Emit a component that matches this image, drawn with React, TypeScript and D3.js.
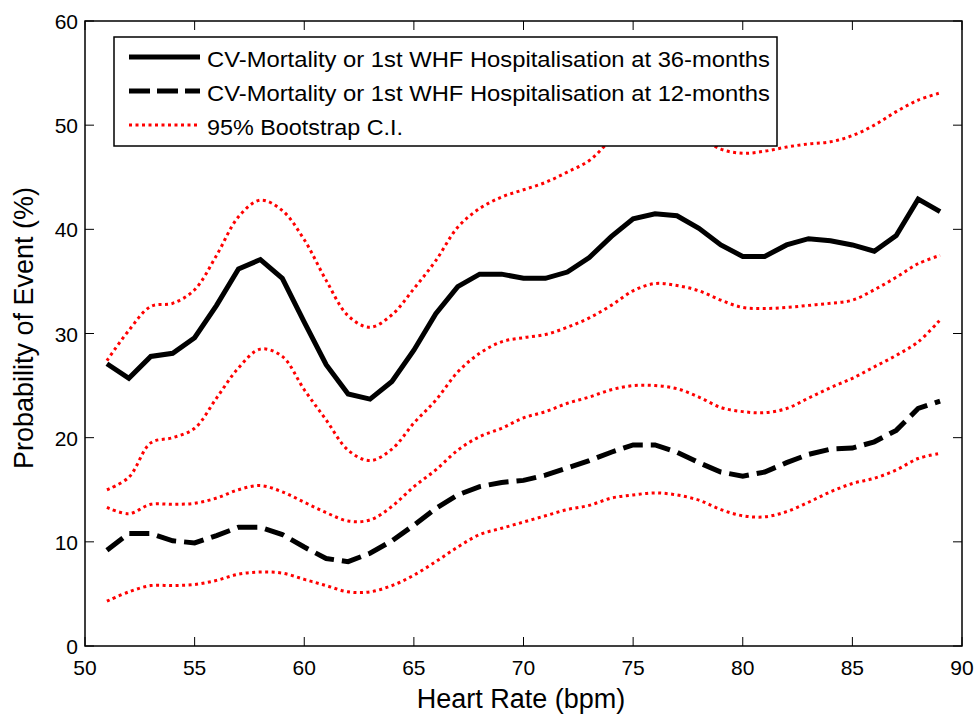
import React from "react";
import * as d3 from "d3";

const heartRate = [51,52,53,54,55,56,57,58,59,60,61,62,63,64,65,66,67,68,69,70,71,72,73,74,75,76,77,78,79,80,81,82,83,84,85,86,87,88,89];

const event36 = [27.1,25.7,27.8,28.1,29.6,32.7,36.2,37.1,35.3,31.1,27.0,24.2,23.7,25.4,28.4,31.9,34.5,35.7,35.7,35.3,35.3,35.9,37.3,39.3,41.0,41.5,41.3,40.1,38.5,37.4,37.4,38.5,39.1,38.9,38.5,37.9,39.4,42.9,41.7];
const event12 = [9.2,10.8,10.8,10.1,9.9,10.6,11.4,11.4,10.7,9.5,8.4,8.1,8.9,10.1,11.6,13.2,14.5,15.3,15.7,15.9,16.4,17.1,17.8,18.6,19.3,19.3,18.6,17.6,16.7,16.3,16.7,17.6,18.4,18.9,19.0,19.6,20.7,22.8,23.5];
const upper36 = [27.4,30.3,32.6,32.9,34.2,37.5,41.2,42.8,41.8,39.0,35.1,31.7,30.6,31.8,34.3,37.0,40.2,42.0,43.1,43.8,44.5,45.5,46.6,48.6,50.2,50.8,50.2,49.0,47.7,47.3,47.5,47.9,48.2,48.4,49.0,50.0,51.3,52.4,53.1];
const lower36 = [15.0,16.2,19.5,20.0,20.9,23.8,26.7,28.5,27.8,24.6,21.7,18.8,17.8,18.9,21.4,23.6,26.3,28.1,29.2,29.6,29.9,30.6,31.5,32.7,34.1,34.8,34.6,34.1,33.2,32.5,32.4,32.5,32.7,32.9,33.2,34.2,35.4,36.7,37.5];
const upper12 = [13.3,12.7,13.6,13.6,13.7,14.2,15.0,15.4,14.8,13.8,12.8,12.0,12.1,13.4,15.3,16.9,18.8,20.1,20.9,21.9,22.5,23.3,23.9,24.6,25.0,25.0,24.7,23.9,22.9,22.5,22.4,22.8,23.8,24.8,25.7,26.8,27.9,29.2,31.3];
const lower12 = [4.3,5.2,5.8,5.8,5.9,6.3,6.9,7.1,7.0,6.4,5.8,5.2,5.2,5.8,6.8,8.1,9.5,10.7,11.3,11.9,12.5,13.1,13.5,14.2,14.5,14.7,14.5,14.0,13.1,12.5,12.4,12.9,13.8,14.8,15.6,16.1,16.9,18.0,18.5];

const xTicks = [50,55,60,65,70,75,80,85,90];
const yTicks = [0,10,20,30,40,50,60];
const legendLabels = [
  "CV-Mortality or 1st WHF Hospitalisation at 36-months",
  "CV-Mortality or 1st WHF Hospitalisation at 12-months",
  "95% Bootstrap C.I.",
];

const W = 978, H = 716;
const L = 85, R = 962, T = 21, B = 646;
const FONT = "'Liberation Sans', Arial, sans-serif";

export default function App() {
  const x = d3.scaleLinear().domain([50, 90]).range([L, R]);
  const y = d3.scaleLinear().domain([0, 60]).range([B, T]);
  const lin = d3.line<number>().x((_, i) => x(heartRate[i])).y(d => y(d));
  const smooth = d3.line<number>().x((_, i) => x(heartRate[i])).y(d => y(d)).curve(d3.curveCatmullRom);
  const tick = 9;
  const ciStyle = { fill: "none", stroke: "#ff0000", strokeWidth: 3, strokeDasharray: "3 3.5" };
  const legendWidths = [563, 563, 196];

  return (
    <svg width={W} height={H} style={{ position: "absolute", left: 0, top: 0, background: "#fff" }} fontFamily={FONT}>
      <rect x={0} y={0} width={W} height={H} fill="#fff" />
      <defs>
        <clipPath id="plot"><rect x={L} y={T} width={R - L} height={B - T} /></clipPath>
      </defs>
      <g clipPath="url(#plot)">
        {[upper36, lower36, upper12, lower12].map((s, k) => (
          <path key={k} d={smooth(s) || ""} {...ciStyle} />
        ))}
        <path d={lin(event36) || ""} fill="none" stroke="#000" strokeWidth={5} strokeLinejoin="miter" />
        <path d={lin(event12) || ""} fill="none" stroke="#000" strokeWidth={5} strokeDasharray="20 8" />
      </g>
      <rect x={L} y={T} width={R - L} height={B - T} fill="none" stroke="#000" strokeWidth={1.5} />
      {xTicks.map(t => (
        <g key={"x" + t}>
          <line x1={x(t)} x2={x(t)} y1={B} y2={B - tick} stroke="#000" strokeWidth={1} />
          <line x1={x(t)} x2={x(t)} y1={T} y2={T + tick} stroke="#000" strokeWidth={1} />
          <text x={x(t)} y={675} textAnchor="middle" fontSize={21}>{t}</text>
        </g>
      ))}
      {yTicks.map(t => (
        <g key={"y" + t}>
          <line x1={L} x2={L + tick} y1={y(t)} y2={y(t)} stroke="#000" strokeWidth={1} />
          <line x1={R} x2={R - tick} y1={y(t)} y2={y(t)} stroke="#000" strokeWidth={1} />
          <text x={L - 7} y={y(t) + 8} textAnchor="end" fontSize={21}>{t}</text>
        </g>
      ))}
      <text x={521} y={708} textAnchor="middle" fontSize={27}>Heart Rate (bpm)</text>
      <text transform={`translate(33, 328) rotate(-90)`} textAnchor="middle" fontSize={27}>Probability of Event (%)</text>
      <rect x={114} y={37} width={663} height={109} fill="#fff" stroke="#000" strokeWidth={1.5} />
      <line x1={129} x2={200} y1={57} y2={57} stroke="#000" strokeWidth={5} />
      <line x1={129} x2={200} y1={91} y2={91} stroke="#000" strokeWidth={5} strokeDasharray="21 7" />
      <line x1={129} x2={199} y1={125} y2={125} {...ciStyle} />
      {legendLabels.map((lab, i) => (
        <text key={i} x={207} y={67 + i * 34} fontSize={22} textLength={legendWidths[i]} lengthAdjust="spacingAndGlyphs">{lab}</text>
      ))}
    </svg>
  );
}
